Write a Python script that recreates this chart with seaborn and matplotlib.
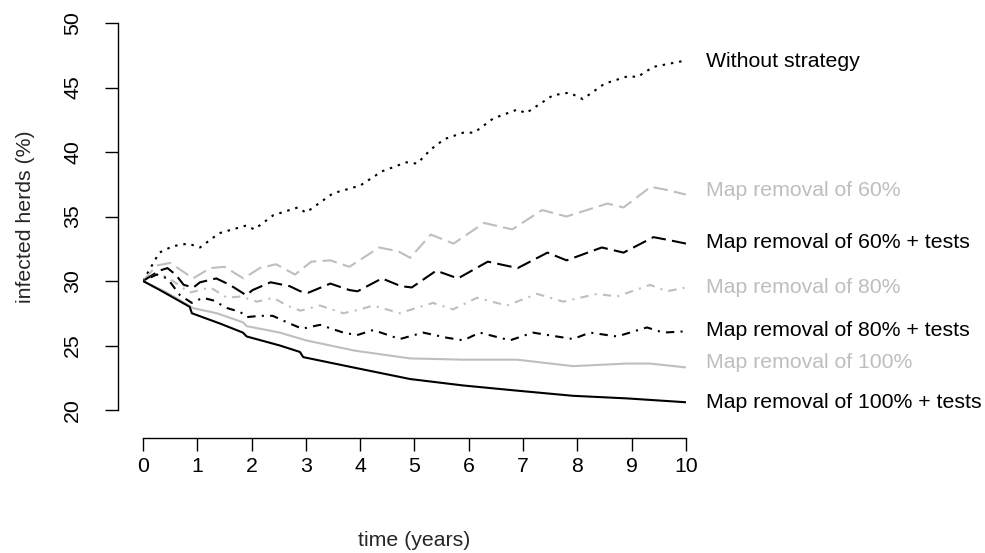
import matplotlib
matplotlib.use('Agg')
import matplotlib.pyplot as plt
import seaborn as sns
import pandas as pd

# Reading values off the chart
without_t = [0, 0.3, 0.55, 0.83, 1.05, 1.4, 1.9, 2.05, 2.4, 2.85, 3.0, 3.5, 4.0, 4.4, 4.85, 5.05, 5.3, 5.55,
             5.9, 6.1, 6.45, 6.9, 7.05, 7.55, 7.85, 8.1, 8.5, 8.95, 9.1, 9.4, 10]
without_v = [30, 32.2, 32.7, 32.9, 32.6, 33.7, 34.3, 34.0, 35.1, 35.7, 35.3, 36.8, 37.4, 38.5, 39.2, 39.1, 40.2, 41.0,
             41.5, 41.5, 42.6, 43.3, 43.0, 44.4, 44.6, 44.1, 45.3, 45.9, 45.8, 46.6, 47.1]

rem60_t = [0, 0.25, 0.5, 0.75, 0.92, 1.24, 1.5, 1.85, 2.15, 2.45, 2.8, 3.1, 3.45, 3.8, 4.35, 4.7, 4.92, 5.3, 5.72,
           6.28, 6.8, 7.35, 7.8, 8.55, 8.85, 9.35, 9.6, 10]
rem60_v = [30, 31.2, 31.4, 30.7, 30.2, 31.0, 31.1, 30.2, 31.0, 31.3, 30.5, 31.5, 31.6, 31.1, 32.6, 32.3, 31.8, 33.6, 32.9,
           34.5, 34.0, 35.5, 35.0, 36.0, 35.7, 37.3, 37.1, 36.7]

rem60_tests_t = [0, 0.3, 0.45, 0.6, 0.75, 0.93, 1.05, 1.35, 1.6, 1.9, 2.02, 2.35, 2.7, 2.9, 3.05, 3.45, 3.8, 3.95,
                 4.4, 4.75, 4.95, 5.4, 5.8, 6.35, 6.9, 7.45, 7.8, 8.45, 8.85, 9.4, 9.65, 10]
rem60_tests_v = [30, 30.8, 31.0, 30.5, 29.7, 29.5, 29.9, 30.2, 29.7, 28.9, 29.3, 29.9, 29.6, 29.2, 29.1, 29.8, 29.3, 29.2,
                 30.2, 29.6, 29.5, 30.8, 30.2, 31.5, 31.0, 32.2, 31.6, 32.6, 32.2, 33.4, 33.2, 32.9]

rem80_t = [0, 0.3, 0.55, 0.86, 1.24, 1.55, 1.8, 2.1, 2.4, 2.65, 2.9, 3.26, 3.69, 4.0, 4.24, 4.73, 5.1, 5.34, 5.71,
           6.15, 6.7, 7.26, 7.74, 8.36, 8.73, 9.34, 9.65, 10]
rem80_v = [30, 30.6, 30.0, 29.1, 29.5, 28.7, 28.8, 28.4, 28.7, 28.1, 27.7, 28.1, 27.5, 27.8, 28.1, 27.5, 28.0, 28.3, 27.8,
           28.7, 28.1, 29.0, 28.4, 29.0, 28.8, 29.7, 29.2, 29.5]

rem80_tests_t = [0, 0.25, 0.45, 0.68, 0.9, 1.1, 1.29, 1.55, 1.79, 1.91, 2.15, 2.39, 2.65, 2.93, 3.26, 3.69, 3.94, 4.24,
                 4.73, 5.16, 5.6, 5.9, 6.2, 6.76, 7.18, 7.62, 7.92, 8.23, 8.73, 9.28, 9.58, 10]
rem80_tests_v = [30, 30.5, 30.2, 28.9, 28.3, 28.7, 28.5, 27.9, 27.6, 27.2, 27.3, 27.3, 26.8, 26.3, 26.6, 26.0, 25.8, 26.2,
                 25.5, 26.0, 25.6, 25.4, 26.0, 25.4, 26.0, 25.7, 25.5, 26.0, 25.7, 26.4, 26.0, 26.1]

rem100_t = [0, 0.44, 0.92, 1.36, 1.84, 1.91, 2.52, 3.0, 3.9, 4.92, 5.9, 6.89, 7.92, 8.91, 9.34, 10]
rem100_v = [30, 29.1, 27.9, 27.5, 26.8, 26.5, 26.0, 25.4, 24.6, 24.0, 23.9, 23.9, 23.4, 23.6, 23.6, 23.3]

rem100_tests_t = [0, 0.31, 0.86, 0.9, 1.42, 1.84, 1.91, 2.52, 2.89, 2.95, 3.87, 4.92, 5.9, 6.89, 7.92, 8.91, 10]
rem100_tests_v = [30, 29.3, 28.0, 27.5, 26.7, 26.0, 25.7, 25.0, 24.5, 24.1, 23.3, 22.4, 21.9, 21.5, 21.1, 20.9, 20.6]

names = ['Without strategy', 'Map removal of 60%', 'Map removal of 60% + tests', 'Map removal of 80%',
         'Map removal of 80% + tests', 'Map removal of 100%', 'Map removal of 100% + tests']
label_y = [47.05, 37.05, 33.0, 29.5, 26.2, 23.7, 20.6]

x_ticks = [0, 1, 2, 3, 4, 5, 6, 7, 8, 9, 10]
y_ticks = [20, 25, 30, 35, 40, 45, 50]

# Building a long table for seaborn
series = [(without_t, without_v), (rem60_t, rem60_v), (rem60_tests_t, rem60_tests_v), (rem80_t, rem80_v),
          (rem80_tests_t, rem80_tests_v), (rem100_t, rem100_v), (rem100_tests_t, rem100_tests_v)]
frames = []
for name, (t, v) in zip(names, series):
    frames.append(pd.DataFrame({'time': t, 'infected': v, 'strategy': name}))
df = pd.concat(frames, ignore_index=True)

grey = '#bebebe'
colors = ['black', grey, 'black', grey, 'black', grey, 'black']
palette = dict(zip(names, colors))
dashes = dict(zip(names, [(1.2, 2.8), (7, 3), (7, 3), (1, 3, 4, 3), (1, 3, 4, 3), '', '']))

sns.set_style('white')
plt.rcParams['font.family'] = ['Liberation Sans', 'DejaVu Sans']
fs = 15.3

fig = plt.figure(figsize=(9.85, 5.53), dpi=100)
ax = fig.add_axes([143 / 985, 1 - 410 / 553, 543 / 985, 387 / 553])

sns.lineplot(data=df, x='time', y='infected', hue='strategy', style='strategy', palette=palette,
             dashes=dashes, linewidth=1.5, legend=False, ax=ax, estimator=None)

ax.set_xlim(0, 10)
ax.set_ylim(20, 50)
ax.set_xticks(x_ticks)
ax.set_yticks(y_ticks)

for side in ['top', 'right']:
    ax.spines[side].set_visible(False)
ax.spines['left'].set_position(('outward', 18))
ax.spines['bottom'].set_position(('outward', 20))
for side in ['left', 'bottom']:
    ax.spines[side].set_color('black')
    ax.spines[side].set_linewidth(1.0)
ax.tick_params(axis='both', direction='out', length=9.4, width=1.0, color='black', left=True, bottom=True,
               labelsize=fs, labelcolor='black')
ax.tick_params(axis='y', pad=16.5, labelrotation=90)
ax.tick_params(axis='x', pad=4.5)
for lab in ax.get_yticklabels():
    lab.set_va('center')

ax.set_xlabel('time (years)', fontsize=fs)
ax.set_ylabel('infected herds (%)', fontsize=fs)
ax.xaxis.set_label_coords(0.5, (410 - 540) / 387)
ax.xaxis.label.set_va('center')
ax.yaxis.set_label_coords((25 - 143) / 543, 0.5)
ax.yaxis.label.set_va('center')

for name, y, c in zip(names, label_y, colors):
    ax.text(10.37, y, name, color=c, fontsize=fs, ha='left', va='center')

fig.savefig('out.png', dpi=100)
